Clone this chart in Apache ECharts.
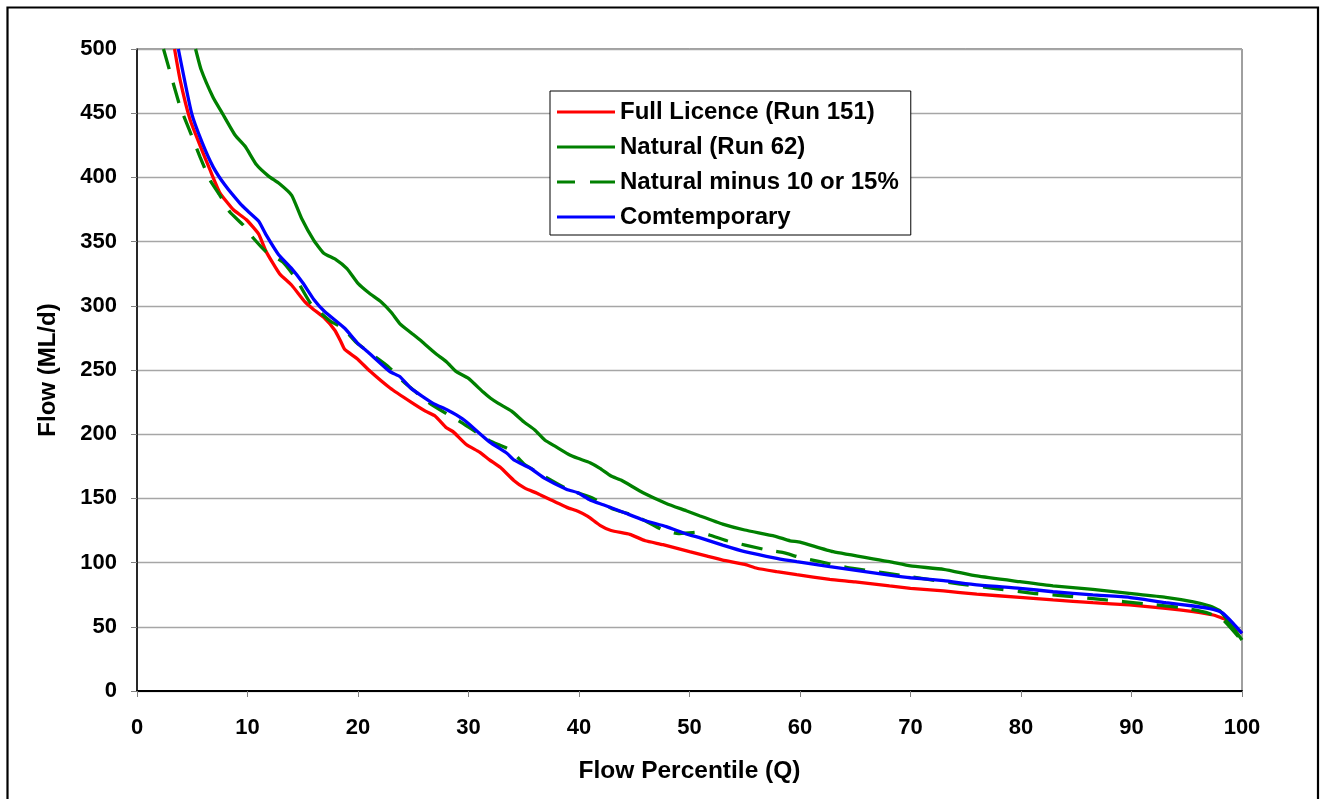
<!DOCTYPE html>
<html>
<head>
<meta charset="utf-8">
<script src="https://cdn.jsdelivr.net/npm/echarts@6/dist/echarts.min.js"></script>
<style>
html,body{margin:0;padding:0;background:#fff;}
#chart{width:1324px;height:799px;}
</style>
</head>
<body>
<div id="chart"></div>
<script>
// ---- data (x = flow percentile, y = flow ML/d) ----
const seriesNames = ['Full Licence (Run 151)', 'Natural (Run 62)', 'Natural minus 10 or 15%', 'Comtemporary'];
const xTicks = [0,10,20,30,40,50,60,70,80,90,100];
const yTicks = [0,50,100,150,200,250,300,350,400,450,500];

const fullLicence = [[3.4,500],[3.9,476],[4.8,445],[5.7,425],[6.6,406],[7.5,388],[8.7,375],[9.9,367],[11.0,356],[11.7,342],[12.9,325],[14.0,316],[15.2,303],[16.0,297],[16.9,291],[17.9,281],[18.4,273],[18.8,266],[19.9,259],[21.1,249],[22.9,236],[24.8,225],[26.1,218],[27.0,214],[28.0,205],[28.6,202],[29.8,192],[31.0,186],[31.9,180],[32.9,174],[34.1,164],[35.1,158],[36.2,154],[36.9,151],[38.9,143],[39.9,140],[40.8,136],[41.9,129],[42.9,125],[44.6,122],[46.0,117],[47.6,114],[50.0,108.5],[51.6,105],[53.0,102],[55.0,98.6],[56.1,95.6],[57.9,93],[59.7,90.6],[62.7,87],[65.0,85],[68.1,81.8],[70.0,80],[73.0,77.9],[76.0,75.5],[79.9,72.9],[82.9,70.9],[86.5,68.8],[89.8,67],[93.1,64.4],[95.6,61.8],[97.4,59.2],[98.6,55.3],[99.5,48.8],[100,45]];

const natural = [[5.3,500],[5.8,484],[6.9,462],[7.65,451],[8.87,433],[9.8,424],[10.8,410],[11.9,401],[12.9,395],[14.0,386],[14.9,368],[16.0,351],[16.9,341],[18.0,336],[19.0,329],[20.0,317.5],[21.0,310],[22.1,303],[23.0,295],[23.8,286],[24.8,279],[25.8,272],[27.0,263],[28.0,256.5],[28.9,248.7],[30.0,243.5],[31.3,233],[32.0,228],[32.7,224],[33.9,218],[35.0,209.7],[36.0,203.3],[36.9,195.5],[37.9,190.3],[39.0,184.6],[39.9,181.2],[41.0,177.8],[41.9,173.4],[42.9,167.4],[43.8,164.3],[45.8,154.4],[47.9,146.1],[49.7,140.4],[50.9,136.5],[53.0,130],[55.0,125.4],[57.7,120.7],[59.1,117],[60.0,116],[63.0,108.5],[68.1,100.7],[70.0,97.4],[73.0,94.8],[76.0,89.6],[79.9,85.1],[82.9,81.8],[86.5,79.2],[89.8,76.1],[93.1,73],[95.6,69.5],[97.1,66.2],[98.0,62.5],[98.9,52.7],[100,39.7]];

const naturalMinus = [[2.4,500],[3.9,455],[4.6,440],[5.7,416],[6.6,398],[7.5,386],[8.4,373],[9.6,363],[10.5,353],[11.7,342],[13.2,334],[14.4,321],[15.7,302],[17.5,288],[18.6,283],[19.9,271],[22.7,253],[24.1,241],[26.5,224],[28.0,216],[29.2,210],[31.9,195],[33.8,187.7],[35.0,177],[36.7,168],[39.0,157],[41.3,150],[43.0,142],[45.2,136],[47.6,125.4],[49.0,122.6],[50.9,123.8],[51.8,121.5],[53.4,117],[56.7,110.4],[58.5,107.7],[60.0,104],[61.8,100.7],[64.2,96.3],[67.5,92.1],[74.5,83.3],[77.5,80],[81.1,76.1],[84.1,74],[87.7,70.9],[90.8,68.3],[94.4,65.1],[96.8,61],[98.3,55.3],[99.8,41]];

const contemporary = [[3.74,500],[4.94,450],[5.9,427],[6.9,408],[7.96,394],[9.3,380],[10.0,374],[11.0,366],[11.7,355],[12.8,340],[14.0,329],[15.0,318],[16.0,305],[17.0,295.4],[18.8,282.5],[20.0,270.6],[20.9,264],[22.9,248.7],[23.8,244.8],[24.8,235.7],[26.8,224],[28.0,219.3],[28.9,215],[29.8,209.7],[31.9,194],[33.5,185],[34.1,180],[35.6,173.5],[36.9,165.6],[38.9,157],[39.9,154.4],[41.0,148.8],[42.2,145],[44.0,139.2],[45.8,133.2],[47.9,128],[49.7,122.3],[50.9,119.4],[53.0,113.6],[55.0,108.5],[57.9,103.3],[59.7,100.7],[62.7,96.8],[68.1,90.3],[70.0,88.2],[73.0,85.9],[76.0,82.6],[79.9,80],[82.9,77.3],[86.5,74.8],[89.8,73],[93.1,68.8],[95.6,66.2],[97.4,63.6],[98.2,61],[99.2,52.7],[100,44.9]];

const seriesData = [fullLicence, natural, naturalMinus, contemporary];
const colors = ['#ff0000', '#008000', '#008000', '#0000ff'];
const lineTypes = ['solid', 'solid', [21, 14], 'solid'];
const legendIcons = ['rect', 'rect', 'path://M0,0H18V3H0Z M33,0H58V3H33Z', 'rect'];

const FONT = '"Liberation Sans", Arial, sans-serif';
const chart = echarts.init(document.getElementById('chart'), null, {renderer: 'canvas'});

chart.setOption({
  animation: false,
  backgroundColor: '#ffffff',
  graphic: [{
    type: 'rect', x: 0, y: 0, z: 100, silent: true,
    shape: {x: 7.5, y: 7.5, width: 1310.5, height: 820},
    style: {fill: 'none', stroke: '#000', lineWidth: 2.2}
  }],
  grid: {left: 137, right: 82, top: 49, bottom: 108, show: true, borderColor: '#404040', borderWidth: 1, backgroundColor: 'transparent'},
  legend: {
    orient: 'vertical', left: 550, top: 91,
    padding: [9, 12, 6, 7],
    itemWidth: 58, itemHeight: 3, itemGap: 11,
    borderColor: '#000', borderWidth: 1,
    backgroundColor: '#fff',
    textStyle: {fontFamily: FONT, fontWeight: 'bold', fontSize: 24, color: '#000', lineHeight: 24},
    data: seriesNames.map((n, i) => ({name: n, icon: legendIcons[i]}))
  },
  xAxis: {
    type: 'value', min: 0, max: 100, interval: 10,
    name: 'Flow Percentile (Q)', nameLocation: 'middle', nameGap: 68,
    nameTextStyle: {fontFamily: FONT, fontWeight: 'bold', fontSize: 24.5, color: '#000'},
    axisLine: {show: true, onZero: false, lineStyle: {color: '#000', width: 2}},
    axisTick: {show: true, inside: false, length: 6, lineStyle: {color: '#808080', width: 1}},
    axisLabel: {margin: 26, fontFamily: FONT, fontWeight: 'bold', fontSize: 22, color: '#000',
      formatter: v => xTicks.includes(v) ? String(v) : ''},
    splitLine: {show: false}
  },
  yAxis: {
    type: 'value', min: 0, max: 500, interval: 50,
    name: 'Flow (ML/d)', nameLocation: 'middle', nameGap: 77, nameRotate: 90,
    nameTextStyle: {fontFamily: FONT, fontWeight: 'bold', fontSize: 24, color: '#000'},
    axisLine: {show: true, onZero: false, lineStyle: {color: '#000', width: 1.5}},
    axisTick: {show: true, inside: false, length: 6, lineStyle: {color: '#808080', width: 1}},
    axisLabel: {margin: 20, fontFamily: FONT, fontWeight: 'bold', fontSize: 22, color: '#000',
      formatter: v => yTicks.includes(v) ? String(v) : ''},
    splitLine: {show: true, lineStyle: {color: '#a6a6a6', width: 1.3}}
  },
  series: seriesData.map((d, i) => ({
    name: seriesNames[i],
    type: 'line',
    data: d,
    symbol: 'none',
    clip: true,
    smooth: 0.15,
    color: colors[i],
    lineStyle: {color: colors[i], width: 3.3, type: lineTypes[i]}
  }))
});
</script>
</body>
</html>
